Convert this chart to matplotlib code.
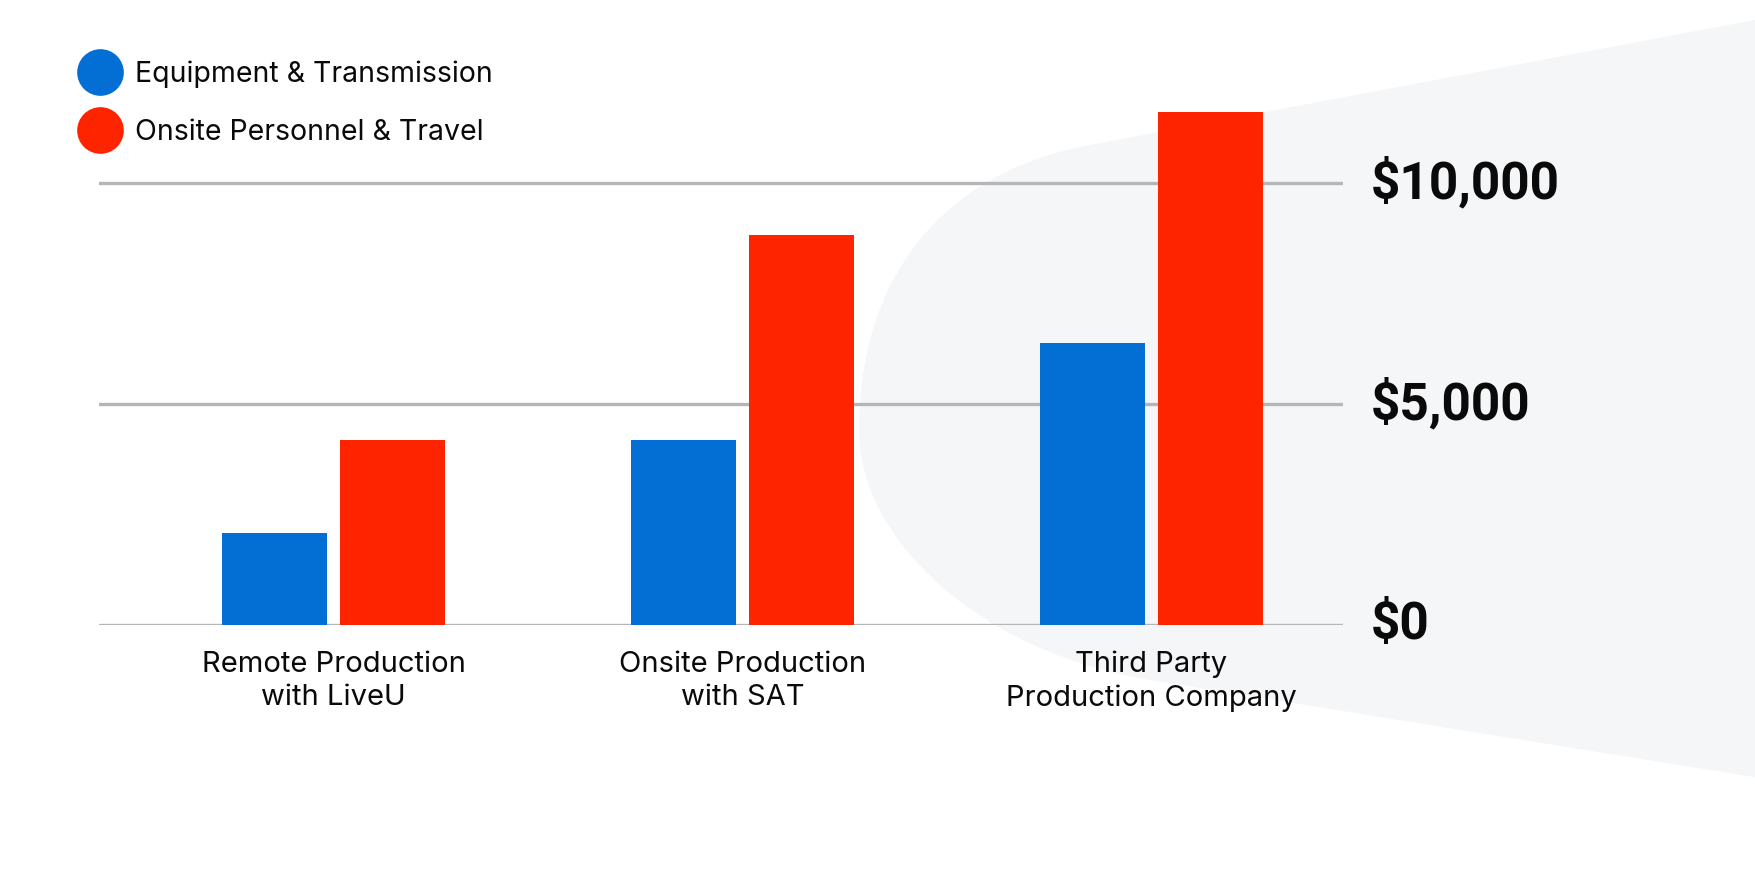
import matplotlib

matplotlib.use("Agg")
import matplotlib.pyplot as plt
from matplotlib.lines import Line2D
from matplotlib.path import Path
from matplotlib.patches import PathPatch
import numpy as np

# values (USD)
categories = ["Remote Production\nwith LiveU", "Onsite Production\nwith SAT",
              "Third Party\nProduction Company"]
series_names = ["Equipment & Transmission", "Onsite Personnel & Travel"]
equipment = [2070, 4180, 6380]
personnel = [4180, 8820, 11600]
y_ticks = [0, 5000, 10000]
y_tick_labels = ["$0", "$5,000", "$10,000"]

BLUE = "#036fd4"
RED = "#ff2400"
GRID = "#b6b6b8"
BG = "#f5f6f8"
INK = "#0a0a0a"

W, H = 1756, 874
fig = plt.figure(figsize=(W / 100, H / 100), dpi=100)
fig.patch.set_facecolor("white")

# decorative light-grey "beam" behind the right half, drawn in pixel space
bg = fig.add_axes([0, 0, 1, 1], zorder=0)
bg.set_xlim(0, W)
bg.set_ylim(H, 0)
bg.axis("off")
verts = [(1760, 19), (1090, 145),
         (940, 173), (859, 280), (859, 430),
         (859, 540), (980, 652), (1150, 680),
         (1760, 778), (1760, 19)]
codes = [Path.MOVETO, Path.LINETO,
         Path.CURVE4, Path.CURVE4, Path.CURVE4,
         Path.CURVE4, Path.CURVE4, Path.CURVE4,
         Path.LINETO, Path.CLOSEPOLY]
bg.add_patch(PathPatch(Path(verts, codes), facecolor=BG, edgecolor="none"))

# main axes: 0 at y=624.5px, 44.15px per $1000, groups 409px apart
x0_px, x1_px = 99.3, 1343.0
y0_px = 624.5
ymax = 12000
ax_h = ymax * 0.04415
ax = fig.add_axes([x0_px / W, 1 - y0_px / H, (x1_px - x0_px) / W, ax_h / H], zorder=1)
ax.patch.set_alpha(0)
ax.set_xlim((x0_px - 333.5) / 409, (x1_px - 333.5) / 409)
ax.set_ylim(0, ymax)

for y in y_ticks:
    ax.axhline(y, color=GRID, lw=2.4, solid_capstyle="round", zorder=1)

x = np.arange(len(categories))
bw = 105 / 409
off = 59 / 409
ax.bar(x - off, equipment, bw, color=BLUE, zorder=2, clip_on=False)
ax.bar(x + off, personnel, bw, color=RED, zorder=2, clip_on=False)

for s in ax.spines.values():
    s.set_visible(False)

ax.set_xticks(x)
ax.set_xticklabels(categories, fontsize=21, family="Inter", color=INK,
                   linespacing=1.3)
ax.yaxis.tick_right()
ax.set_yticks(y_ticks)
ax.set_yticklabels(y_tick_labels, fontsize=37, family="Roboto",
                   fontweight="bold", color=INK)
for lab in ax.get_yticklabels():
    lab.set_verticalalignment("center")
ax.tick_params(axis="both", length=0)
ax.tick_params(axis="x", pad=19)
ax.tick_params(axis="y", pad=20)

handles = [Line2D([], [], ls="none", marker="o", markersize=33.6,
                  markerfacecolor=c, markeredgecolor="none")
           for c in (BLUE, RED)]
fig.legend(handles, series_names, loc="upper left",
           bbox_to_anchor=(83 / W, 1 - 60 / H), frameon=False,
           prop={"family": "Inter", "size": 20.5}, labelcolor=INK,
           handlelength=1.2, handletextpad=0.63, labelspacing=1.12,
           borderaxespad=0, borderpad=0)

fig.savefig("out.png", dpi=100)
